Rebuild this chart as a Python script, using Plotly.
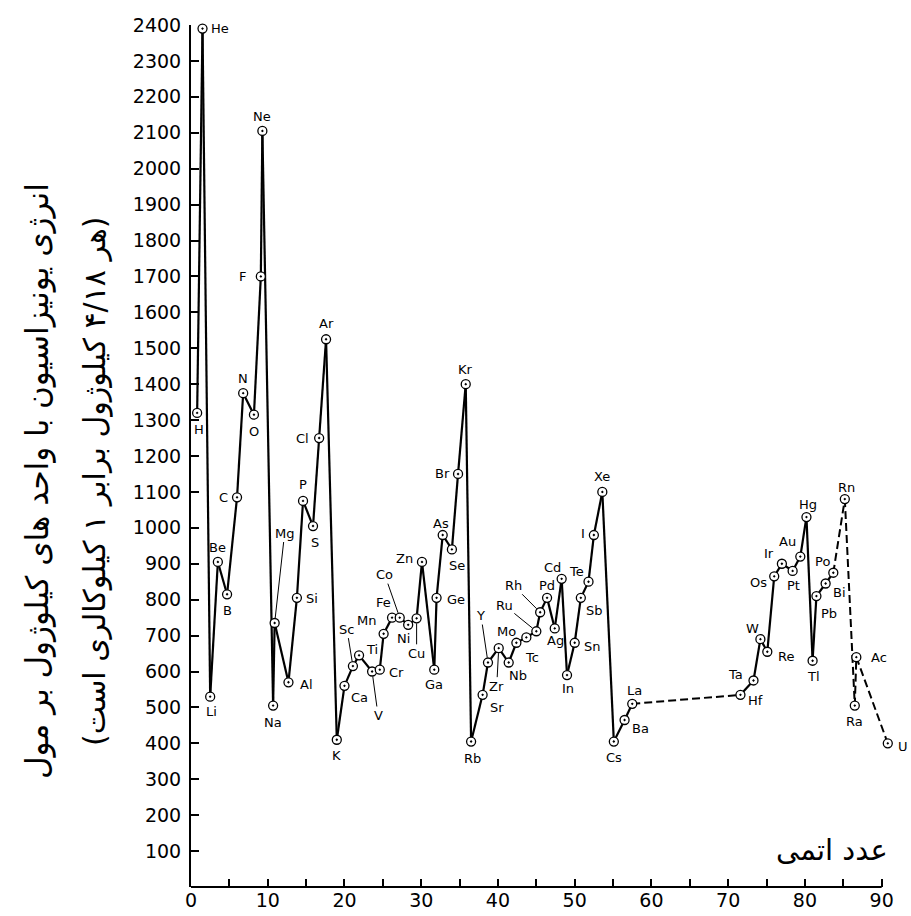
import plotly.graph_objects as go

# ---------------- data ----------------
elements = ["H", "He", "Li", "Be", "B", "C", "N", "O", "F", "Ne",
            "Na", "Mg", "Al", "Si", "P", "S", "Cl", "Ar",
            "K", "Ca", "Sc", "Ti", "V", "Cr", "Mn", "Fe", "Co", "Ni", "Cu", "Zn",
            "Ga", "Ge", "As", "Se", "Br", "Kr",
            "Rb", "Sr", "Y", "Zr", "Nb", "Mo", "Tc", "Ru", "Rh", "Pd", "Ag", "Cd",
            "In", "Sn", "Sb", "Te", "I", "Xe",
            "Cs", "Ba", "La", "Hf", "Ta", "W", "Re", "Os", "Ir", "Pt", "Au", "Hg",
            "Tl", "Pb", "Bi", "Po", "Rn", "Ra", "Ac", "U"]

# atomic-number position as drawn in the figure
atomic_number = [0.8, 1.5, 2.5, 3.5, 4.7, 6.0, 6.8, 8.2, 9.1, 9.3,
                 10.7, 10.9, 12.7, 13.8, 14.6, 15.9, 16.7, 17.6,
                 19.0, 20.0, 21.1, 21.9, 23.6, 24.6, 25.1, 26.2, 27.2, 28.3, 29.4, 30.1,
                 31.7, 32.0, 32.8, 34.0, 34.8, 35.8,
                 36.5, 38.0, 38.7, 40.1, 41.4, 42.4, 43.7, 45.0, 45.5, 46.4, 47.4, 48.3,
                 49.0, 50.0, 50.8, 51.8, 52.5, 53.6,
                 55.1, 56.5, 57.5, 71.6, 73.3, 74.2, 75.1, 76.0, 77.0, 78.4, 79.4, 80.2,
                 81.0, 81.5, 82.7, 83.7, 85.2, 86.5, 86.7, 90.8]

# first ionisation energy, kJ/mol
energy = [1320, 2390, 530, 905, 815, 1085, 1375, 1315, 1700, 2105,
          505, 735, 570, 805, 1075, 1005, 1250, 1525,
          410, 560, 615, 645, 600, 605, 705, 750, 750, 730, 748, 905,
          605, 805, 980, 940, 1150, 1400,
          405, 535, 625, 665, 625, 680, 695, 712, 765, 805, 720, 858,
          590, 680, 805, 850, 980, 1100,
          405, 465, 510, 535, 575, 690, 655, 865, 900, 880, 920, 1030,
          630, 810, 845, 875, 1080, 505, 640, 400]

# segments drawn dashed (estimated/uncertain parts)
dashed_segments = [("La", "Hf"), ("Po", "Rn"), ("Rn", "Ra"), ("Ra", "Ac"), ("Ac", "U")]

x_tick_values = list(range(0, 91, 5))
x_tick_labels = [str(v) if v % 10 == 0 else "" for v in x_tick_values]
y_tick_values = list(range(100, 2401, 100))
y_tick_labels = [str(v) for v in y_tick_values]

y_title_line1 = "انرژی یونیزاسیون با واحد های کیلوژول بر مول"
y_title_line2 = "(هر ۴/۱۸ کیلوژول برابر ۱ کیلوکالری است)"
x_title = "عدد اتمی"

# ---------------- label placement (pixels; dy positive = down) ----------------
label_offset = {
    "H": (2, 17), "He": (17, 0), "Li": (1, 15), "Be": (0, -14), "B": (0, 16),
    "C": (-14, 0), "N": (0, -15), "O": (0, 17), "F": (-18, 0), "Ne": (0, -14),
    "Na": (0, 17), "Al": (18, 2), "Si": (15, 1), "P": (0, -16), "S": (2, 16),
    "Cl": (-17, 0), "Ar": (0, -16), "K": (0, 16), "Ca": (15, 12), "Ti": (13, -6),
    "Cr": (17, 3), "Mn": (-17, -13), "Fe": (-9, -15), "Ni": (-5, 14), "Zn": (-17, -3),
    "Ga": (0, 15), "Ge": (19, 2), "As": (-2, -12), "Se": (5, 16), "Br": (-16, 0),
    "Kr": (0, -15), "Rb": (1, 17), "Sr": (14, 13), "Nb": (9, 13), "Mo": (-10, -11),
    "Tc": (6, 20), "Pd": (0, -12), "Ag": (1, 12), "Cd": (-9, -11), "In": (1, 13),
    "Sn": (18, 4), "Sb": (14, 13), "Te": (-12, -10), "I": (-11, -2), "Xe": (0, -15),
    "Cs": (0, 16), "Ba": (16, 9), "La": (2, -13), "Hf": (15, 6), "Ta": (-18, -6),
    "W": (-8, -11), "Re": (19, 5), "Os": (-16, 6), "Ir": (-13, -10), "Pt": (1, 15),
    "Au": (-13, -15), "Hg": (2, -13), "Tl": (1, 16), "Pb": (13, 17), "Bi": (14, 9),
    "Po": (-11, -11), "Rn": (2, -12), "Ra": (0, 16), "Ac": (23, 0), "U": (15, 3),
}
leader_offset = {
    "Mg": (10, -90), "Sc": (-6, -37), "V": (6, 44), "Co": (-15, -43), "Cu": (0, 35),
    "Y": (-7, -47), "Zr": (-2, 38), "Ru": (-32, -26), "Rh": (-27, -27),
}

FONT = "DejaVu Sans"
X_MAX_AXIS = 90      # drawn axis end
X_RANGE_MAX = 92     # extra room so the last point (U) is inside the subplot
PLOT_L, PLOT_R0 = 191, 882   # pixel positions of x=0 and x=90
px_per_unit = (PLOT_R0 - PLOT_L) / X_MAX_AXIS
right_margin = 911 - (PLOT_L + px_per_unit * X_RANGE_MAX)
plot_w = px_per_unit * X_RANGE_MAX

fig = go.Figure()

# solid and dashed line segments built from the data
idx = {e: i for i, e in enumerate(elements)}
dashed_set = {(idx[a], idx[b]) for a, b in dashed_segments}
sx, sy, dx_, dy_ = [], [], [], []
for i in range(len(elements) - 1):
    if (i, i + 1) in dashed_set:
        dx_ += [atomic_number[i], atomic_number[i + 1], None]
        dy_ += [energy[i], energy[i + 1], None]
    else:
        sx += [atomic_number[i], atomic_number[i + 1], None]
        sy += [energy[i], energy[i + 1], None]

fig.add_trace(go.Scatter(x=sx, y=sy, mode="lines",
                         line=dict(color="black", width=2.2),
                         cliponaxis=False, hoverinfo="skip"))
fig.add_trace(go.Scatter(x=dx_, y=dy_, mode="lines",
                         line=dict(color="black", width=2, dash="8px,4px"),
                         cliponaxis=False, hoverinfo="skip"))
fig.add_trace(go.Scatter(x=atomic_number, y=energy, mode="markers", text=elements,
                         marker=dict(symbol="circle-dot", size=9, color="white",
                                     line=dict(color="black", width=1.3)),
                         cliponaxis=False))

annotations = []
for i, e in enumerate(elements):
    if e in leader_offset:
        ax, ay = leader_offset[e]
        annotations.append(dict(x=atomic_number[i], y=energy[i], xref="x", yref="y",
                                text=e, showarrow=True, arrowhead=0, arrowwidth=1,
                                arrowcolor="black", ax=ax, ay=ay, standoff=5,
                                font=dict(family=FONT, size=13, color="black")))
    else:
        ddx, ddy = label_offset.get(e, (0, -14))
        annotations.append(dict(x=atomic_number[i], y=energy[i], xref="x", yref="y",
                                text=e, showarrow=False, xshift=ddx, yshift=-ddy,
                                font=dict(family=FONT, size=13, color="black")))

annotations.append(dict(text=y_title_line1, textangle=-90, showarrow=False,
                        xref="paper", yref="paper", x=(37 - PLOT_L) / plot_w, y=(887 - 481) / 862,
                        xanchor="center", yanchor="middle",
                        font=dict(family=FONT, size=31, color="black")))
annotations.append(dict(text=y_title_line2, textangle=-90, showarrow=False,
                        xref="paper", yref="paper", x=(95 - PLOT_L) / plot_w, y=(887 - 481) / 862,
                        xanchor="center", yanchor="middle",
                        font=dict(family=FONT, size=30, color="black")))
annotations.append(dict(text=x_title, showarrow=False, xref="paper", yref="paper",
                        x=(890 - PLOT_L) / plot_w, y=(887 - 850) / 862,
                        xanchor="right", yanchor="middle",
                        font=dict(family=FONT, size=29, color="black")))

# x axis line drawn only from 0 to 90, as in the figure
shapes = [dict(type="line", xref="x", yref="paper", x0=0, x1=X_MAX_AXIS, y0=0, y1=0,
               line=dict(color="black", width=2))]

fig.update_layout(
    width=911, height=916,
    margin=dict(l=PLOT_L, r=right_margin, t=25, b=29),
    paper_bgcolor="white", plot_bgcolor="white",
    showlegend=False,
    annotations=annotations,
    shapes=shapes,
    xaxis=dict(range=[0, X_RANGE_MAX], showline=False,
               ticks="inside", ticklen=8, tickwidth=1.5, tickcolor="black",
               tickmode="array", tickvals=x_tick_values, ticktext=x_tick_labels,
               tickfont=dict(family=FONT, size=19, color="black"),
               showgrid=False, zeroline=False, automargin=False),
    yaxis=dict(range=[0, 2400], showline=True, linecolor="black", linewidth=2,
               ticks="inside", ticklen=8, tickwidth=1.5, tickcolor="black",
               tickmode="array", tickvals=y_tick_values, ticktext=y_tick_labels,
               tickfont=dict(family=FONT, size=19, color="black"),
               ticklabelstandoff=4,
               showgrid=False, zeroline=False, automargin=False),
)

fig.write_html("out.html", config={"displayModeBar": False},
               post_script="document.body.style.margin='0';document.body.style.overflow='hidden';")
